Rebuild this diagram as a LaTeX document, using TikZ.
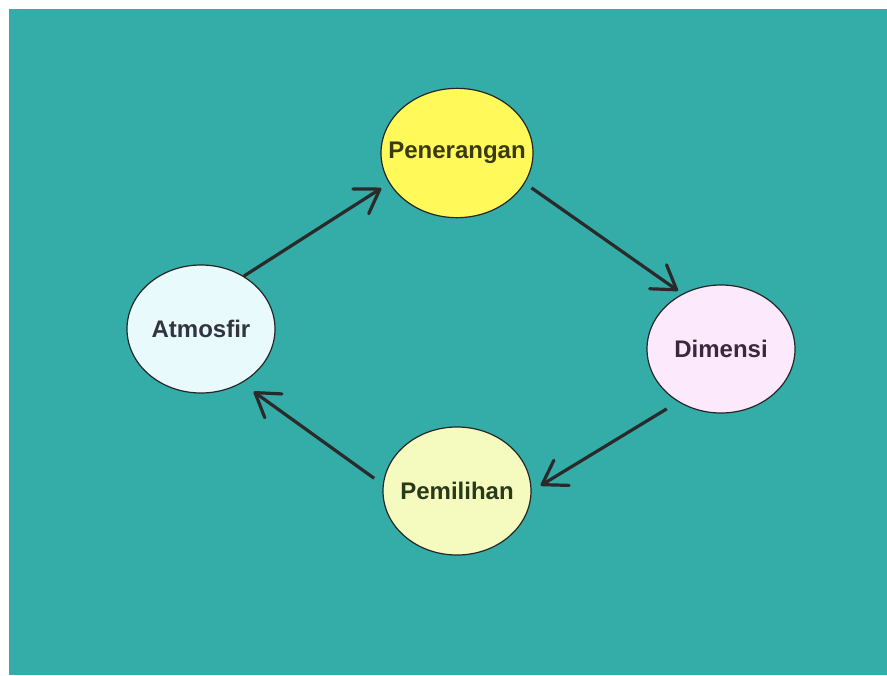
\documentclass[tikz,border=0pt]{standalone}
\usepackage{fontspec}
\setmainfont{Liberation Sans}
\usepackage{tikz}
\usetikzlibrary{shapes.geometric,arrows.meta}

\definecolor{tealbg}{RGB}{52,172,168}
\definecolor{lampu}{RGB}{255,250,90}
\definecolor{udara}{RGB}{232,250,252}
\definecolor{ruang}{RGB}{252,234,252}
\definecolor{pilih}{RGB}{245,250,190}
\definecolor{panah}{RGB}{42,42,42}

\newcommand{\bubbletext}[1]{\makebox[0pt]{#1}}

\tikzset{
  bubble/.style={ellipse, draw=black!85, line width=0.9pt, inner sep=0pt,
                 minimum width=111pt, minimum height=96pt,
                 font=\fontsize{18}{20}\selectfont\bfseries},
  flow/.style={draw=panah, line width=2.4pt,
               -{Straight Barb[length=17pt,width=22pt,round]}}
}

\begin{document}
\begin{tikzpicture}[x=0.75pt,y=-0.75pt]
        \useasboundingbox (0,0) rectangle (887,675) ;
        \fill[tealbg] (9,9) rectangle (887,675) ;

        \node[bubble, fill=lampu, minimum width=114pt, minimum height=97pt,
              text={rgb,255:red,58;green,58;blue,16}] (pen) at (457,153) {\bubbletext{Penerangan}} ;
        \node[bubble, fill=udara, text={rgb,255:red,50;green,52;blue,62}] (atm) at (201,329) {\bubbletext{Atmosfir}} ;
        \node[bubble, fill=ruang, text={rgb,255:red,60;green,40;blue,62}] (dim) at (721,349) {\bubbletext{Dimensi}} ;
        \node[bubble, fill=pilih, text={rgb,255:red,40;green,58;blue,26}] (pem) at (457,491) {\bubbletext{Pemilihan}} ;

        \draw[flow, shorten >=7pt] (atm.51) -- (pen.204) ;
        \draw[flow, shorten <=6pt, shorten >=4pt] (pen.336) -- (dim.125) ;
        \draw[flow, shorten <=10pt, shorten >=8pt] (dim.231) -- (pem.0) ;
        \draw[flow, shorten <=8pt, shorten >=11pt] (pem.175) -- (atm.307) ;
\end{tikzpicture}
\end{document}
